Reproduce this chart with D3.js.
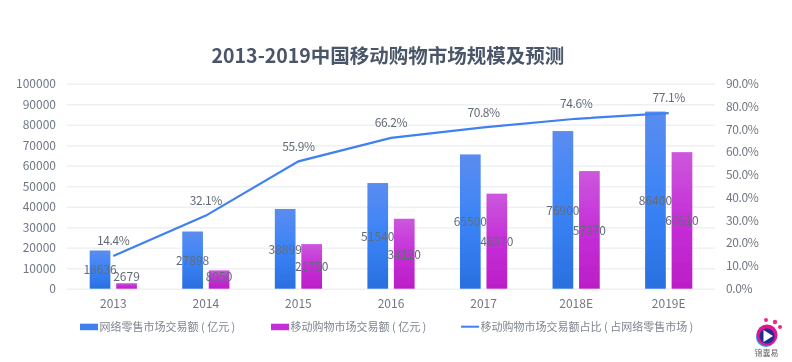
<!DOCTYPE html>
<html>
<head>
<meta charset="utf-8">
<script src="https://cdnjs.cloudflare.com/ajax/libs/d3/7.8.5/d3.min.js"></script>
<style>
html, body { margin: 0; padding: 0; background: #fff; }
svg { display: block; }
text { font-family: "Noto Sans CJK SC", "Open Sans", sans-serif; }
</style>
</head>
<body>
<svg id="chart" width="792" height="362"></svg>
<script>
const years = ["2013", "2014", "2015", "2016", "2017", "2018E", "2019E"];
const retail = [18636, 27898, 38899, 51540, 65500, 76900, 86400];
const mobile = [2679, 8950, 21750, 34120, 46370, 57370, 66610];
const share = [14.4, 32.1, 55.9, 66.2, 70.8, 74.6, 77.1];
const leftTicks = [0, 10000, 20000, 30000, 40000, 50000, 60000, 70000, 80000, 90000, 100000];
const rightTicks = [0, 10, 20, 30, 40, 50, 60, 70, 80, 90];
const titleText = "2013-2019中国移动购物市场规模及预测";
const legendNames = ["网络零售市场交易额 ( 亿元 )", "移动购物市场交易额 ( 亿元 )", "移动购物市场交易额占比 ( 占网络零售市场 )"];

const textColor = "#707783";
const barW = 20.7, barGap = 5.8;

const svg = d3.select("#chart");
const defs = svg.append("defs");

function addGradient(id, stops) {
    const g = defs.append("linearGradient").attr("id", id)
        .attr("x1", 0).attr("y1", 0).attr("x2", 0).attr("y2", 1);
    stops.forEach(function(s) {
        g.append("stop").attr("offset", s[0]).attr("stop-color", s[1]);
    });
}
addGradient("blueGrad", [[0, "#5b8cf0"], [0.5, "#3a84f8"], [1, "#2a6fdf"]]);
addGradient("pinkGrad", [[0, "#cc58dc"], [0.5, "#c52fd8"], [1, "#bb1ec6"]]);
defs.append("filter").attr("id", "soft")
    .append("feGaussianBlur").attr("stdDeviation", 0.45);

const root = svg.append("g").attr("filter", "url(#soft)");

const x = d3.scaleBand().domain(years).range([67, 715]);
const y = d3.scaleLinear().domain([0, 100000]).range([288.7, 83.7]);
const yPct = d3.scaleLinear().domain([0, 90]).range([288.7, 83.7]);
const cx = function(d) { return x(d) + x.bandwidth() / 2; };

root.append("text")
    .attr("x", 388).attr("y", 62.5)
    .attr("text-anchor", "middle")
    .attr("font-size", 19.5).attr("font-weight", 700)
    .attr("fill", "#4a5568")
    .text(titleText);

// gridlines come from the left axis ticks
const yAxis = root.append("g").attr("transform", "translate(67,0)")
    .call(d3.axisLeft(y).tickValues(leftTicks).tickSize(-648).tickPadding(11).tickFormat(d3.format("d")));
yAxis.select(".domain").remove();
yAxis.selectAll("line").attr("stroke", "#eef0f3").attr("stroke-width", 1.4);
yAxis.selectAll("text").attr("font-size", 12).attr("fill", textColor);

const yAxisR = root.append("g").attr("transform", "translate(715,0)")
    .call(d3.axisRight(yPct).tickValues(rightTicks).tickSize(0).tickPadding(11).tickFormat(function(d) { return d.toFixed(1) + "%"; }));
yAxisR.select(".domain").remove();
yAxisR.selectAll("text").attr("font-size", 12).attr("letter-spacing", -0.4).attr("fill", textColor);

const xAxis = root.append("g").attr("transform", "translate(0,288.7)")
    .call(d3.axisBottom(x).tickSize(0).tickPadding(10.5));
xAxis.select(".domain").remove();
xAxis.selectAll("text").attr("font-size", 12).attr("fill", textColor);

root.selectAll(".retail").data(retail).enter().append("rect")
    .attr("class", "retail")
    .attr("x", function(d, i) { return cx(years[i]) - barGap / 2 - barW; })
    .attr("y", function(d) { return y(d); })
    .attr("width", barW)
    .attr("height", function(d) { return y(0) - y(d); })
    .attr("fill", "url(#blueGrad)");

root.selectAll(".mobile").data(mobile).enter().append("rect")
    .attr("class", "mobile")
    .attr("x", function(d, i) { return cx(years[i]) + barGap / 2; })
    .attr("y", function(d) { return y(d); })
    .attr("width", barW)
    .attr("height", function(d) { return y(0) - y(d); })
    .attr("fill", "url(#pinkGrad)");

const line = d3.line()
    .x(function(d, i) { return cx(years[i]); })
    .y(function(d) { return yPct(d); });
root.append("path").datum(share)
    .attr("d", line)
    .attr("fill", "none")
    .attr("stroke", "#3f80f2")
    .attr("stroke-width", 2.2);

// value labels sit mid bar, but short bars push them up
function labelY(d) {
    return Math.min((y(d) + y(0)) / 2 + 0.7, y(0) - 12);
}
root.selectAll(".retailLabel").data(retail).enter().append("text")
    .attr("x", function(d, i) { return cx(years[i]) - barGap / 2 - barW / 2; })
    .attr("y", labelY)
    .attr("dy", "0.35em")
    .attr("text-anchor", "middle")
    .attr("font-size", 12).attr("fill", "#646b77")
    .text(function(d) { return d; });
root.selectAll(".mobileLabel").data(mobile).enter().append("text")
    .attr("x", function(d, i) { return cx(years[i]) + barGap / 2 + barW / 2; })
    .attr("y", labelY)
    .attr("dy", "0.35em")
    .attr("text-anchor", "middle")
    .attr("font-size", 12).attr("fill", "#646b77")
    .text(function(d) { return d; });
root.selectAll(".shareLabel").data(share).enter().append("text")
    .attr("x", function(d, i) { return cx(years[i]); })
    .attr("y", function(d) { return yPct(d) - 15; })
    .attr("dy", "0.35em")
    .attr("text-anchor", "middle")
    .attr("font-size", 12).attr("letter-spacing", -0.4).attr("fill", "#646b77")
    .text(function(d) { return d.toFixed(1) + "%"; });

// legend
const legendY = 326.7;
const legendX = [80, 271, 461];
legendNames.forEach(function(name, i) {
    if (i < 2) {
        root.append("rect")
            .attr("x", legendX[i]).attr("y", legendY - 3)
            .attr("width", 18).attr("height", 6.5)
            .attr("fill", i == 0 ? "#3f80f2" : "#c52fd8");
    } else {
        root.append("line")
            .attr("x1", legendX[i]).attr("x2", legendX[i] + 18)
            .attr("y1", legendY).attr("y2", legendY)
            .attr("stroke", "#3f80f2").attr("stroke-width", 2);
    }
    root.append("text")
        .attr("x", legendX[i] + 19.5).attr("y", legendY)
        .attr("dy", "0.35em")
        .attr("font-size", 11).attr("fill", "#7f858f")
        .text(name);
});

// logo, bottom right
const logo = root.append("g").attr("transform", "translate(767,336)");
logo.append("circle").attr("cx", -1).attr("cy", 1).attr("r", 10).attr("fill", "#1e9be8");
logo.append("circle").attr("cx", 0).attr("cy", -1).attr("r", 10.5).attr("fill", "#e0148c");
logo.append("circle").attr("cx", 0).attr("cy", 0).attr("r", 7.5).attr("fill", "#1f2f9c");
logo.append("path").attr("d", d3.line()([[-3.5, -6], [-3.5, 6], [6, 0]])).attr("fill", "#fff");
[[-1, -16, 2], [8, -14, 2.2], [13, -9, 2]].forEach(function(p) {
    logo.append("circle").attr("cx", p[0]).attr("cy", p[1]).attr("r", p[2]).attr("fill", "#f0278f");
});
root.append("text")
    .attr("x", 766.5).attr("y", 356)
    .attr("text-anchor", "middle")
    .attr("font-size", 8).attr("fill", "#666")
    .text("锦囊易");
</script>
</body>
</html>
